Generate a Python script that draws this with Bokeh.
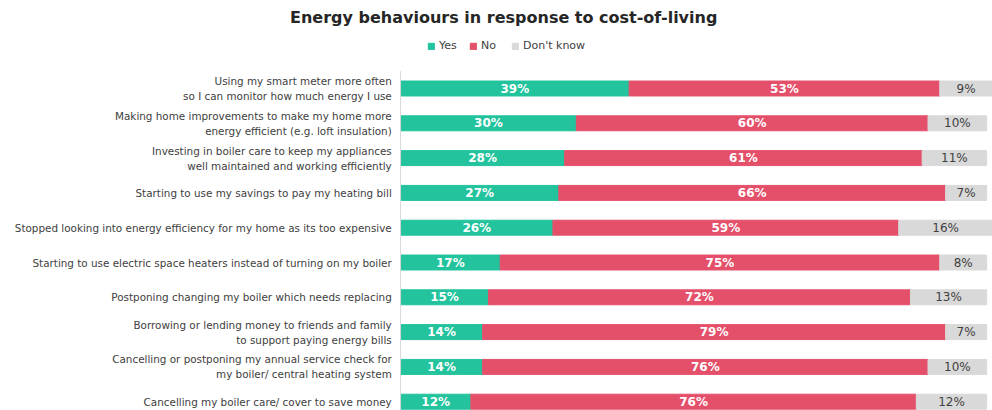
from bokeh.plotting import figure
from bokeh.models import ColumnDataSource, Range1d, Label
from bokeh.core.properties import value
from bokeh.embed import file_html
from bokeh.resources import INLINE

categories = [
    "Using my smart meter more often\nso I can monitor how much energy I use",
    "Making home improvements to make my home more\nenergy efficient (e.g. loft insulation)",
    "Investing in boiler care to keep my appliances\nwell maintained and working efficiently",
    "Starting to use my savings to pay my heating bill",
    "Stopped looking into energy efficiency for my home as its too expensive",
    "Starting to use electric space heaters instead of turning on my boiler",
    "Postponing changing my boiler which needs replacing",
    "Borrowing or lending money to friends and family\nto support paying energy bills",
    "Cancelling or postponing my annual service check for\nmy boiler/ central heating system",
    "Cancelling my boiler care/ cover to save money",
]
yes = [39, 30, 28, 27, 26, 17, 15, 14, 14, 12]
no = [53, 60, 61, 66, 59, 75, 72, 79, 76, 76]
dk = [9, 10, 11, 7, 16, 8, 13, 7, 10, 12]
series = ["Yes", "No", "Don't know"]
colors = ["#22c39d", "#e4506a", "#d9d9d9"]
title_text = "Energy behaviours in response to cost-of-living"

rows = list(range(len(categories)))
src = ColumnDataSource(dict(
    y=rows, yes=yes, no=no, dk=dk, cat=categories,
    cat_x=[-1.5] * len(rows),
    yes_mid=[a / 2 for a in yes],
    no_mid=[a + b / 2 for a, b in zip(yes, no)],
    dk_mid=[a + b + c / 2 for a, b, c in zip(yes, no, dk)],
    yes_lbl=[f"{v}%" for v in yes],
    no_lbl=[f"{v}%" for v in no],
    dk_lbl=[f"{v}%" for v in dk],
))

FONT = "DejaVu Sans"

p = figure(width=992, height=410, output_backend="svg", toolbar_location=None,
           x_range=Range1d(-68.26, 101.0), y_range=Range1d(9.253, -2.529),
           min_border_left=0, min_border_right=0, min_border_top=0, min_border_bottom=0)
p.outline_line_color = None
p.xgrid.visible = False
p.ygrid.visible = False
p.xaxis.visible = False
p.yaxis.visible = False

p.hbar_stack(["yes", "no", "dk"], y="y", height=0.43, color=colors, source=src,
             legend_label=series)

# category labels (left of the axis line)
p.text(x="cat_x", y="y", text="cat", source=src, text_align="right",
       text_baseline="middle", text_color="#404040", text_font=value(FONT),
       text_font_size="10.4px", text_line_height=1.25)

p.text(x="yes_mid", y="y", text="yes_lbl", source=src, text_align="center",
       text_baseline="middle", text_color="white", text_font=value(FONT),
       text_font_style="bold", text_font_size="12px")
p.text(x="no_mid", y="y", text="no_lbl", source=src, text_align="center",
       text_baseline="middle", text_color="white", text_font=value(FONT),
       text_font_style="bold", text_font_size="12px")
p.text(x="dk_mid", y="y", text="dk_lbl", source=src, text_align="center",
       text_baseline="middle", text_color="#404040", text_font=value(FONT),
       text_font_size="12px")

# axis line beside the bars
p.segment(x0=[0], y0=[-0.5], x1=[0], y1=[9.6], line_color="#d9d9d9", line_width=1)

p.add_layout(Label(x=17.6, y=-2.04, text=title_text, text_align="center",
                   text_baseline="middle", text_font=FONT, text_font_style="bold",
                   text_font_size="16px", text_color="#262626"))

lg = p.legend[0]
lg.location = (427, 358)
lg.orientation = "horizontal"
lg.label_text_font = FONT
lg.label_text_font_size = "11px"
lg.label_text_color = "#404040"
lg.label_height = 12
lg.glyph_width = 8
lg.glyph_height = 8
lg.label_standoff = 4
lg.spacing = 10
lg.padding = 0
lg.margin = 0
lg.border_line_color = None
lg.background_fill_alpha = 0

open("out.html", "w").write(file_html(p, INLINE))
